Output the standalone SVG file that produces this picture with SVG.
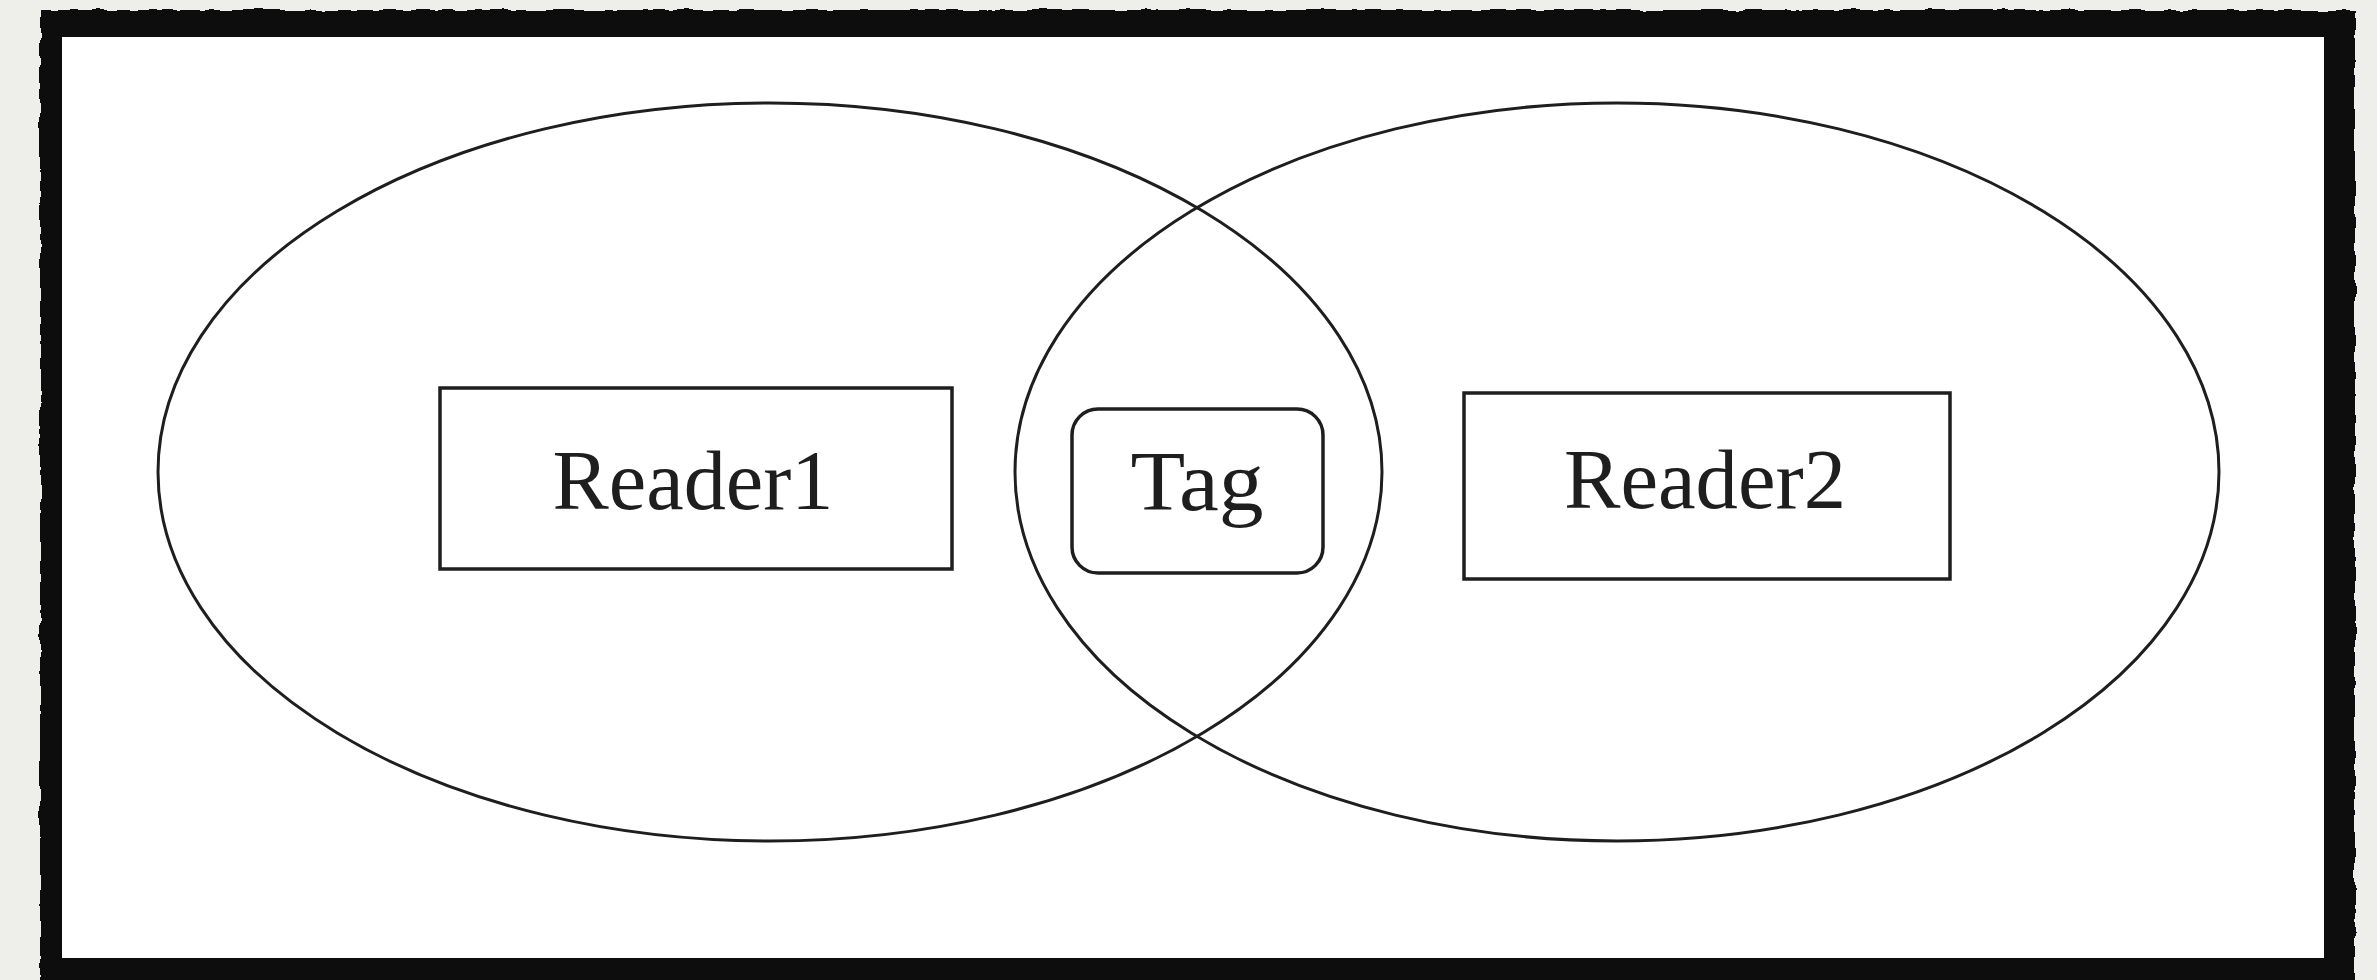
<svg xmlns="http://www.w3.org/2000/svg" width="2377" height="980" viewBox="0 0 2377 980">
  <style>
    .ring { fill: none; stroke: #1e1e1e; stroke-width: 3; }
    .box { fill: #ffffff; stroke: #1e1e1e; stroke-width: 3.5; }
    .label { font-family: "Liberation Serif", "DejaVu Serif", serif; font-size: 84px; fill: #1e1e1e; text-anchor: middle; }
  </style>
  <defs>
    <filter id="rough" x="-2%" y="-2%" width="104%" height="104%">
      <feTurbulence type="fractalNoise" baseFrequency="0.06" numOctaves="2" seed="4" result="n"/>
      <feDisplacementMap in="SourceGraphic" in2="n" scale="6" xChannelSelector="R" yChannelSelector="G"/>
    </filter>
  </defs>

  <!-- paper background -->
  <rect x="0" y="0" width="2377" height="980" fill="#eeeeea"/>

  <!-- heavy ink frame -->
  <g id="frame">
    <rect x="40" y="10" width="2315" height="1000" fill="#0a0a0a" filter="url(#rough)"/>
    <rect x="62" y="37" width="2262" height="921" fill="#ffffff"/>
  </g>

  <!-- reader ranges -->
  <g id="range1">
    <ellipse class="ring" cx="770" cy="472" rx="612" ry="369"/>
  </g>
  <g id="range2">
    <ellipse class="ring" cx="1617" cy="472" rx="602" ry="369"/>
  </g>

  <g id="reader1">
    <rect class="box" x="440" y="388" width="512" height="181"/>
    <text class="label" x="693" y="509" textLength="281" lengthAdjust="spacingAndGlyphs">Reader1</text>
  </g>

  <g id="tag">
    <rect class="box" x="1072" y="409" width="251" height="164" rx="26" ry="26"/>
    <text class="label" x="1197" y="510" textLength="133" lengthAdjust="spacingAndGlyphs">Tag</text>
  </g>

  <g id="reader2">
    <rect class="box" x="1464" y="393" width="486" height="186"/>
    <text class="label" x="1705" y="508" textLength="282" lengthAdjust="spacingAndGlyphs">Reader2</text>
  </g>

  <g id="connectors"></g>
</svg>
